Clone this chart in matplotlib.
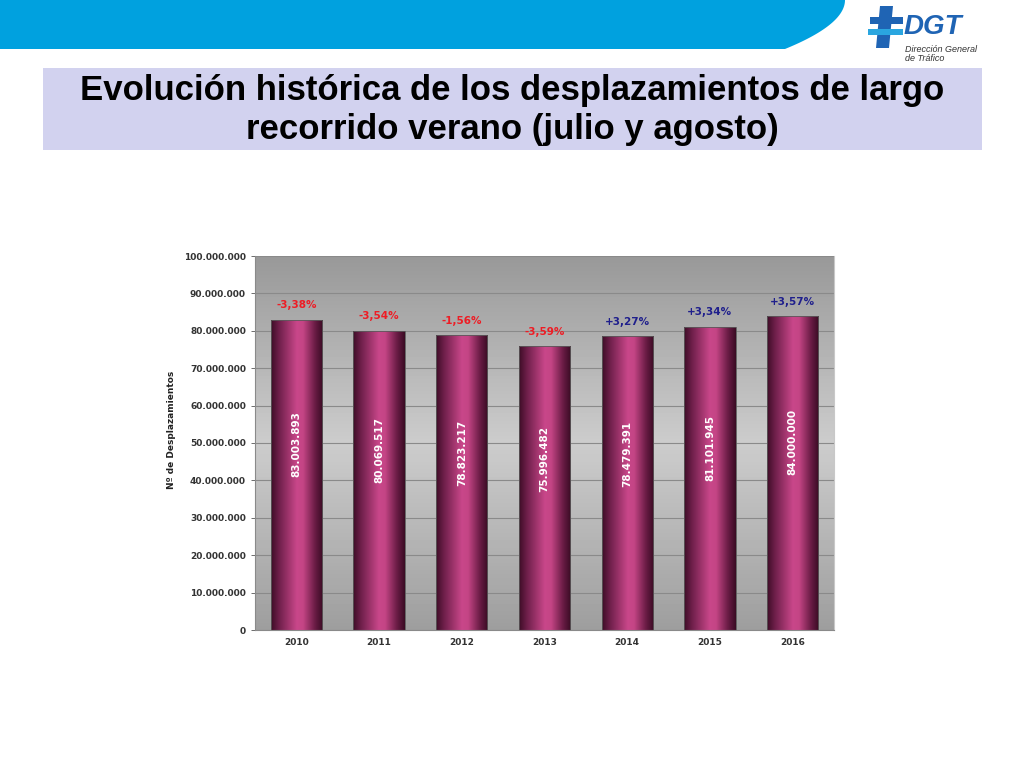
import numpy as np
import matplotlib
matplotlib.use("Agg")
import matplotlib.pyplot as plt
from matplotlib.patches import Rectangle, Polygon
from matplotlib.colors import LinearSegmentedColormap
from matplotlib.ticker import FuncFormatter

plt.rcParams['font.family'] = ['DejaVu Sans']

# ---- data ----
years = ["2010", "2011", "2012", "2013", "2014", "2015", "2016"]
values = [83003893, 80069517, 78823217, 75996482, 78479391, 81101945, 84000000]
value_labels = ["83.003.893", "80.069.517", "78.823.217", "75.996.482",
                "78.479.391", "81.101.945", "84.000.000"]
pct_labels = ["-3,38%", "-3,54%", "-1,56%", "-3,59%", "+3,27%", "+3,34%", "+3,57%"]
yticks = list(range(0, 100000001, 10000000))
ylabel = "Nº de Desplazamientos"
title = "Evolución histórica de los desplazamientos de largo\nrecorrido verano (julio y agosto)"

fig = plt.figure(figsize=(10.24, 7.68), dpi=100)
fig.patch.set_facecolor("white")

# ---- top banner ----
bg = fig.add_axes([0, 0, 1, 1], zorder=0)
bg.set_xlim(0, 1024)
bg.set_ylim(768, 0)
bg.axis("off")
t = np.linspace(0, 1, 40)
pts = [(0, 0), (0, 49)] + [(785 + 60 * (1 - (1 - s) ** 2), 49 - 49 * s) for s in t] + [(845, 0)]
bg.add_patch(Polygon(pts, closed=True, facecolor="#00a1df", edgecolor="none"))

# title box
bg.add_patch(Rectangle((43, 68), 939, 82, facecolor="#d2d2ef", edgecolor="none"))
bg.text(512, 110, title, ha="center", va="center", fontsize=25, fontweight="bold",
        color="black", family="Liberation Sans", linespacing=1.2)

# DGT logo (simplified)
bg.add_patch(Polygon([(880, 6), (893, 6), (889, 48), (876, 48)], closed=True,
                     facecolor="#1f64b4", edgecolor="none"))
bg.add_patch(Rectangle((870, 17), 33, 7, facecolor="#1f64b4", edgecolor="none"))
bg.add_patch(Rectangle((868, 29), 35, 6, facecolor="#2aa6e0", edgecolor="none"))
bg.text(904, 27, "DGT", fontsize=20, fontweight="bold", fontstyle="italic",
        color="#1f64b4", va="center", ha="left", family="Liberation Sans")
bg.text(905, 54, "Dirección General\nde Tráfico", fontsize=6.5, fontstyle="italic",
        color="#333333", va="center", ha="left", family="Liberation Sans", linespacing=1.0)

# ---- chart ----
ax = fig.add_axes([255 / 1024, 1 - 630 / 768, (834 - 255) / 1024, (630 - 256) / 768], zorder=1)
ax.set_xlim(-0.5, len(years) - 0.5)
ax.set_ylim(0, 100000000)

# background gradient
grad = np.concatenate([np.linspace(0.62, 0.80, 50), np.linspace(0.80, 0.60, 50)])[:, None]
bgcm = LinearSegmentedColormap.from_list("g", ["#000000", "#ffffff"])
ax.imshow(grad, extent=[-0.5, len(years) - 0.5, 100000000, 0], aspect="auto",
          cmap=bgcm, vmin=0, vmax=1, zorder=0)

ax.set_yticks(yticks)
ax.yaxis.set_major_formatter(FuncFormatter(lambda v, p: "0" if v == 0 else f"{int(v):,}".replace(",", ".")))
ax.grid(axis="y", color="#8a8a8a", linewidth=0.8, zorder=1)
ax.set_axisbelow(True)

bar_cm = LinearSegmentedColormap.from_list(
    "bar", [(0.0, "#3e0d27"), (0.15, "#6e1f4a"), (0.5, "#c9478a"),
            (0.62, "#c44585"), (0.85, "#6a1c45"), (1.0, "#3a0c24")])
xg = np.linspace(0, 1, 200)[None, :]
w = 0.62
bars = ax.bar(range(len(years)), values, width=w, color="none",
              edgecolor="#5a5a5a", linewidth=0.6, zorder=3)
for i, (b, v) in enumerate(zip(bars, values)):
    im = ax.imshow(xg, extent=[i - w / 2, i + w / 2, 0, v], aspect="auto",
                   cmap=bar_cm, zorder=2)
    im.set_clip_path(b)
    ax.text(i, v * 0.6, value_labels[i], rotation=90, ha="center", va="center",
            color="white", fontsize=7.5, fontweight="bold", zorder=4)
    col = "#ee1c24" if pct_labels[i].startswith("-") else "#1f1f8c"
    ax.text(i, v + 3800000, pct_labels[i], ha="center", va="center",
            color=col, fontsize=7.5, fontweight="bold", zorder=4)

ax.set_xlim(-0.5, len(years) - 0.5)
ax.set_ylim(0, 100000000)
ax.set_xticks(range(len(years)))
ax.set_xticklabels(years)
ax.tick_params(axis="both", labelsize=6.5, colors="#333333", length=3, width=0.5)
for lab in ax.get_xticklabels() + ax.get_yticklabels():
    lab.set_fontweight("bold")
ax.tick_params(axis="x", length=0, pad=6)
for s in ax.spines.values():
    s.set_color("#8a8a8a")
    s.set_linewidth(0.8)
ax.spines["top"].set_visible(False)
ax.spines["right"].set_color("#c8c8c8")
ax.spines["bottom"].set_color("#8a8a8a")

fig.text(172 / 1024, 1 - 430 / 768, ylabel, rotation=90, ha="center", va="center",
         fontsize=6.5, fontweight="bold", color="#222222")

fig.savefig("out.png", dpi=100, facecolor="white")
